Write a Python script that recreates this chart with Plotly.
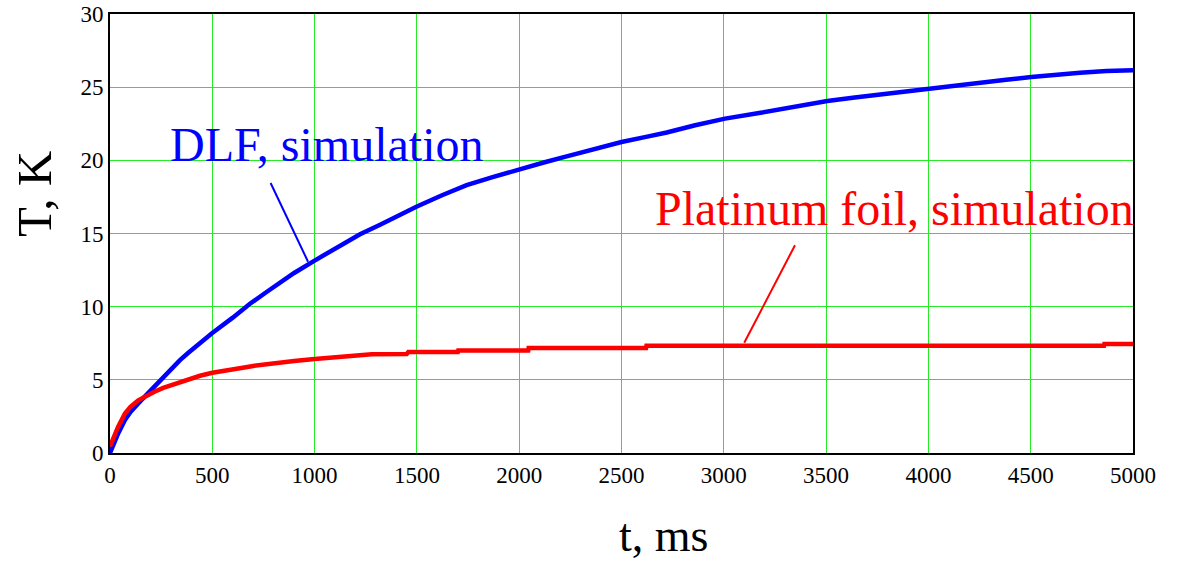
import plotly.graph_objects as go

# ---- data ----
dlf_t = [0, 20, 40, 73, 100, 138, 180, 220, 260, 301, 342, 383, 440, 500, 600, 684, 760, 831, 900,
         1000, 1100, 1222, 1320, 1417, 1500, 1620, 1743, 1870, 2000, 2120, 2232, 2370, 2500, 2620,
         2721, 2860, 3006, 3180, 3356, 3506, 3640, 3763, 3880, 4004, 4130, 4252, 4380, 4503, 4620,
         4741, 4870, 5000]
dlf_T = [0.0, 0.75, 1.34, 2.25, 2.8, 3.39, 4.0, 4.53, 5.15, 5.78, 6.35, 6.85, 7.55, 8.2, 9.25, 10.2,
         10.95, 11.65, 12.3, 13.15, 13.95, 14.95, 15.6, 16.3, 16.85, 17.6, 18.3, 18.85, 19.4, 19.85,
         20.27, 20.8, 21.25, 21.6, 21.9, 22.4, 22.85, 23.25, 23.7, 24.05, 24.3, 24.5, 24.75, 24.96,
         25.15, 25.3, 25.5, 25.69, 25.85, 25.99, 26.1, 26.15]

pt_t = [0, 20, 40, 73, 100, 138, 180, 220, 260, 301, 340, 383, 440, 500, 560, 627, 700, 790, 900,
        1000, 1117, 1200, 1280, 1450, 1458, 1700, 1702, 2044, 2046, 2620, 2622, 4858, 4860, 5000]
pt_T = [0.45, 1.2, 1.8, 2.7, 3.15, 3.6, 3.95, 4.2, 4.45, 4.64, 4.85, 5.03, 5.28, 5.48, 5.65, 5.78,
        5.95, 6.12, 6.28, 6.42, 6.57, 6.66, 6.74, 6.76, 6.9, 6.9, 7.0, 7.0, 7.17, 7.17, 7.33, 7.33,
        7.45, 7.45]

x_ticks = [0, 500, 1000, 1500, 2000, 2500, 3000, 3500, 4000, 4500, 5000]
y_ticks = [0, 5, 10, 15, 20, 25, 30]

FONT = "Liberation Serif"
GRID = "rgb(40,235,40)"

fig = go.Figure()
fig.add_trace(go.Scatter(x=dlf_t, y=dlf_T, mode="lines",
                         line=dict(color="#0000ff", width=4.5), name="DLF, simulation"))
fig.add_trace(go.Scatter(x=pt_t, y=pt_T, mode="lines",
                         line=dict(color="#ff0000", width=4.5), name="Platinum foil, simulation"))

# pointer lines
fig.add_shape(type="line", xref="x", yref="y", x0=785, y0=18.45, x1=968, y1=13.07,
              line=dict(color="#0000ff", width=2))
fig.add_shape(type="line", xref="x", yref="y", x0=3348, y0=14.2, x1=3100, y1=7.53,
              line=dict(color="#ff0000", width=2))

fig.add_annotation(x=283, y=21.05, xref="x", yref="y", text="DLF, simulation", showarrow=False,
                   xanchor="left", yanchor="middle", font=dict(family=FONT, size=48, color="#0000ff"))
fig.add_annotation(x=2654, y=16.7, xref="x", yref="y", text="Platinum foil, simulation",
                   showarrow=False, xanchor="left", yanchor="middle",
                   font=dict(family=FONT, size=48, color="#ff0000"))

# axis titles
fig.add_annotation(x=-0.0733, y=0.59, xref="paper", yref="paper", text="T, K", showarrow=False,
                   textangle=-90, xanchor="center", yanchor="middle",
                   font=dict(family=FONT, size=49, color="black"))
fig.add_annotation(x=0.5406, y=-0.187, xref="paper", yref="paper", text="t, ms", showarrow=False,
                   xanchor="center", yanchor="middle",
                   font=dict(family=FONT, size=46, color="black"))

fig.update_layout(
    width=1186, height=561,
    margin=dict(l=110, r=53, t=14, b=108, autoexpand=False),
    paper_bgcolor="white", plot_bgcolor="white",
    showlegend=False,
    font=dict(family=FONT, size=23, color="black"),
)
fig.update_xaxes(range=[0, 5000], tickvals=x_ticks, ticktext=[str(v) for v in x_ticks],
                 showgrid=True, gridcolor=GRID, gridwidth=1, zeroline=False,
                 showline=True, linecolor="black", linewidth=2, mirror=True, automargin=False,
                 ticks="", tickfont=dict(family=FONT, size=23, color="black"))
fig.update_yaxes(range=[0, 30], tickvals=y_ticks, ticktext=[str(v) for v in y_ticks],
                 showgrid=True, gridcolor=GRID, gridwidth=1, zeroline=False,
                 showline=True, linecolor="black", linewidth=2, mirror=True, automargin=False,
                 ticks="", tickfont=dict(family=FONT, size=23, color="black"))

fig.write_html("out.html")
